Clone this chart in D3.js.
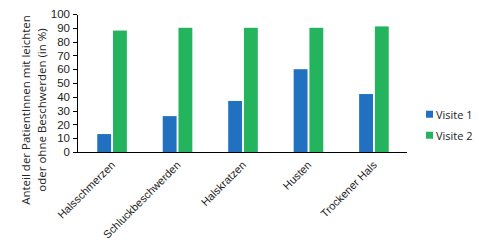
<!DOCTYPE html>
<html lang="de">
<head>
    <meta charset="UTF-8">
    <title>Beschwerden Visite 1 / Visite 2</title>
    <script src="https://d3js.org/d3.v7.min.js"></script>
    <style>
        body {
            margin: 0;
            padding: 0;
            background: #fff;
            font-family: "Open Sans", Arial, sans-serif;
        }
        svg {
            display: block;
        }
        .axis path,
        .axis line {
            stroke: #000;
            shape-rendering: crispEdges;
        }
        .axis text {
            fill: #222;
        }
    </style>
</head>
<body>
    <svg width="479" height="244"></svg>

    <script>
        const categories = ["Halsschmerzen", "Schluckbeschwerden", "Halskratzen", "Husten", "Trockener Hals"];
        const series = ["Visite 1", "Visite 2"];
        const visite1 = [13, 26, 37, 60, 42];
        const visite2 = [88, 90, 90, 90, 91];
        const yTicks = [0, 10, 20, 30, 40, 50, 60, 70, 80, 90, 100];
        const colors = ["#2271c1", "#25b45e"];

        const data = categories.map((c, i) => ({ cat: c, values: [visite1[i], visite2[i]] }));

        const margin = { top: 14, right: 72, bottom: 92, left: 79 };
        const width = 479 - margin.left - margin.right;
        const height = 244 - margin.top - margin.bottom;

        const svg = d3.select("svg")
            .append("g")
            .attr("transform", `translate(${margin.left},${margin.top})`);

        const x = d3.scaleBand()
            .domain(categories)
            .range([0, width])
            .paddingInner(0.49)
            .paddingOuter(0.25);

        const xInner = d3.scaleBand()
            .domain(series)
            .range([0, x.bandwidth()])
            .padding(0.12);

        const y = d3.scaleLinear()
            .domain([0, 100])
            .range([height, 0]);

        // y axis
        const yAxis = svg.append("g")
            .attr("class", "axis")
            .attr("transform", "translate(-2,0)")
            .call(d3.axisLeft(y).tickValues(yTicks).tickSize(4).tickSizeOuter(0).tickPadding(3));
        yAxis.selectAll("text")
            .style("font-size", "11.5px");

        // bars
        const groups = svg.selectAll(".group")
            .data(data)
            .enter()
            .append("g")
            .attr("class", "group")
            .attr("transform", d => `translate(${x(d.cat)},0)`);

        groups.selectAll("rect")
            .data(d => d.values.map((v, i) => ({ key: series[i], value: v, i: i })))
            .enter()
            .append("rect")
            .attr("x", d => xInner(d.key))
            .attr("y", d => y(d.value))
            .attr("width", xInner.bandwidth())
            .attr("height", d => height - y(d.value))
            .attr("fill", d => colors[d.i]);

        // x axis
        const xAxis = svg.append("g")
            .attr("class", "axis")
            .attr("transform", `translate(0,${height})`)
            .call(d3.axisBottom(x).tickSize(0).tickPadding(0));
        xAxis.select(".domain").attr("d", `M-2,0.5H${width}`);
        xAxis.selectAll("text")
            .style("font-size", "11px")
            .style("text-anchor", "end")
            .attr("y", 0)
            .attr("dy", "0.35em")
            .attr("transform", "translate(1,11) rotate(-45)");

        // y axis title
        const title = svg.append("text")
            .attr("transform", `translate(${-margin.left + 30},${height / 2 + 27}) rotate(-90)`)
            .attr("text-anchor", "middle")
            .style("font-size", "11.5px")
            .style("fill", "#222");
        title.append("tspan").attr("x", 0).attr("dy", 0).text("Anteil der PatientInnen mit leichten");
        title.append("tspan").attr("x", 0).attr("dy", 15.5).text("oder ohne Beschwerden (in %)");

        // legend
        const legend = svg.append("g")
            .attr("transform", `translate(${width + 19},${y(27)})`);
        series.forEach((s, i) => {
            const row = legend.append("g").attr("transform", `translate(0,${i * 21})`);
            row.append("rect")
                .attr("x", 0)
                .attr("y", -4)
                .attr("width", 7)
                .attr("height", 7)
                .attr("fill", colors[i]);
            row.append("text")
                .attr("x", 10)
                .attr("y", 0)
                .attr("dy", "0.35em")
                .style("font-size", "11px")
                .style("fill", "#222")
                .text(s);
        });
    </script>
</body>
</html>
